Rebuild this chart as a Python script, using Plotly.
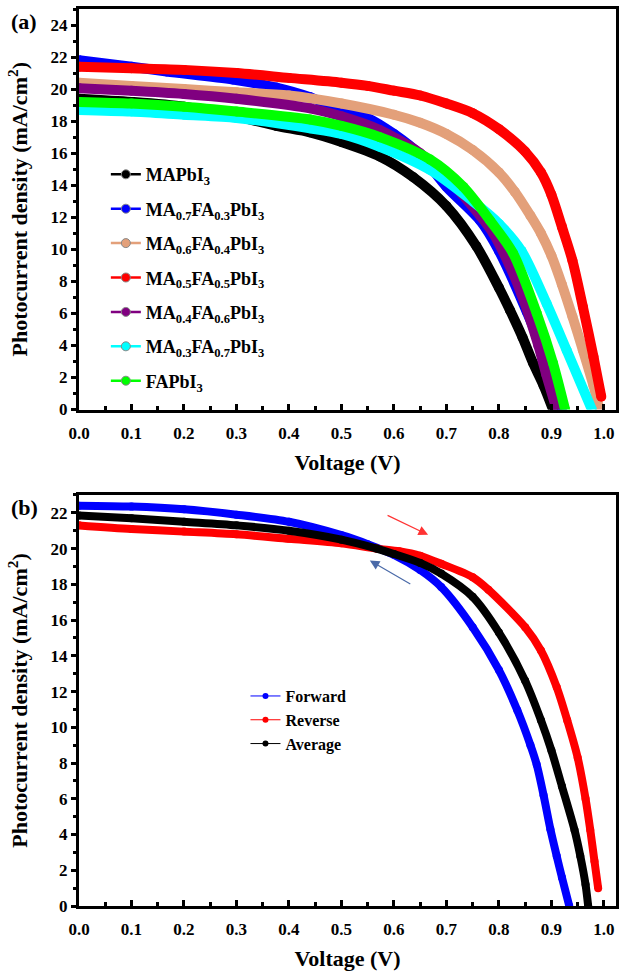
import plotly.graph_objects as go

# ---------------- Panel (a) data ----------------
names_a = ["MAPbI<sub>3</sub>",
           "MA<sub>0.7</sub>FA<sub>0.3</sub>PbI<sub>3</sub>",
           "MA<sub>0.6</sub>FA<sub>0.4</sub>PbI<sub>3</sub>",
           "MA<sub>0.5</sub>FA<sub>0.5</sub>PbI<sub>3</sub>",
           "MA<sub>0.4</sub>FA<sub>0.6</sub>PbI<sub>3</sub>",
           "MA<sub>0.3</sub>FA<sub>0.7</sub>PbI<sub>3</sub>",
           "FAPbI<sub>3</sub>"]
colors_a = ["#000000", "#0000ff", "#e3a07a", "#ff0000", "#800080", "#00ffff", "#00ff00"]

v_mapbi3 = [0, 0.1, 0.2, 0.3, 0.376, 0.44, 0.5, 0.573, 0.637, 0.70, 0.757, 0.80, 0.821, 0.845, 0.865, 0.885, 0.903]
j_mapbi3 = [19.4, 19.2, 18.9, 18.3, 17.7, 17.3, 16.7, 15.8, 14.5, 12.7, 10.2, 7.6, 6.2, 4.5, 2.9, 1.5, 0.0]

v_ma07 = [0, 0.1, 0.167, 0.293, 0.376, 0.44, 0.484, 0.55, 0.6, 0.65, 0.70, 0.764, 0.80, 0.853, 0.897, 0.92]
j_ma07 = [21.8, 21.4, 21.1, 20.6, 20.1, 19.5, 18.9, 18.2, 17.2, 15.9, 13.9, 11.8, 9.9, 6.1, 2.5, 0.0]

v_ma06 = [0, 0.1, 0.2, 0.3, 0.4, 0.5, 0.6, 0.65, 0.7, 0.75, 0.8, 0.83, 0.86, 0.88, 0.9, 0.92, 0.94, 0.96, 0.98, 0.99]
j_ma06 = [20.4, 20.2, 20.0, 19.8, 19.6, 19.1, 18.4, 17.9, 17.2, 16.2, 14.8, 13.6, 12.1, 11.0, 9.6, 7.8, 5.8, 3.7, 1.5, 0.2]

v_ma05 = [0, 0.1, 0.2, 0.3, 0.4, 0.5, 0.55, 0.6, 0.65, 0.7, 0.75, 0.8, 0.85, 0.88, 0.9, 0.92, 0.94, 0.96, 0.98, 0.995]
j_ma05 = [21.4, 21.3, 21.2, 21.0, 20.7, 20.4, 20.2, 19.9, 19.6, 19.1, 18.5, 17.5, 16.1, 14.8, 13.4, 11.4, 9.3, 6.4, 3.3, 0.8]

v_ma04 = [0, 0.1, 0.2, 0.3, 0.44, 0.5, 0.573, 0.65, 0.70, 0.764, 0.789, 0.82, 0.843, 0.875, 0.89, 0.91]
j_ma04 = [20.05, 19.9, 19.7, 19.4, 18.8, 18.3, 17.45, 16.0, 14.5, 12.1, 11.0, 9.0, 7.2, 4.0, 2.2, 0.0]

v_ma03 = [0, 0.1, 0.2, 0.3, 0.44, 0.5, 0.573, 0.669, 0.75, 0.8, 0.843, 0.891, 0.929, 0.977]
j_ma03 = [18.7, 18.6, 18.4, 18.2, 17.55, 17.2, 16.4, 14.95, 13.0, 11.6, 9.9, 6.6, 3.7, 0.0]

v_fapbi3 = [0, 0.1, 0.2, 0.3, 0.44, 0.5, 0.573, 0.669, 0.732, 0.783, 0.827, 0.872, 0.903, 0.926]
j_fapbi3 = [19.2, 19.1, 18.9, 18.6, 18.1, 17.7, 17.0, 15.6, 13.9, 11.8, 9.75, 6.0, 2.9, 0.0]

series_a = [(v_mapbi3, j_mapbi3), (v_ma07, j_ma07), (v_ma06, j_ma06), (v_ma05, j_ma05),
            (v_ma04, j_ma04), (v_ma03, j_ma03), (v_fapbi3, j_fapbi3)]

# ---------------- Panel (b) data ----------------
names_b = ["Forward", "Reverse", "Average"]
colors_b = ["#0000ff", "#ff0000", "#000000"]

v_fwd = [0, 0.1, 0.2, 0.3, 0.4, 0.5, 0.55, 0.6, 0.65, 0.69, 0.75, 0.8, 0.835, 0.86, 0.872, 0.885, 0.898, 0.91, 0.92, 0.934]
j_fwd = [22.4, 22.35, 22.2, 21.9, 21.5, 20.75, 20.25, 19.65, 18.8, 17.85, 15.6, 13.2, 10.95, 9.0, 7.9, 6.2, 4.3, 2.8, 1.6, 0.0]

v_rev = [0, 0.1, 0.2, 0.3, 0.4, 0.5, 0.567, 0.61, 0.65, 0.69, 0.75, 0.78, 0.85, 0.88, 0.91, 0.93, 0.95, 0.965, 0.974, 0.982, 0.989]
j_rev = [21.3, 21.1, 20.95, 20.8, 20.55, 20.3, 20.0, 19.85, 19.6, 19.15, 18.4, 17.7, 15.6, 14.3, 12.25, 10.4, 8.3, 6.0, 4.25, 2.5, 1.0]

v_avg = [0, 0.1, 0.2, 0.3, 0.4, 0.5, 0.567, 0.6, 0.65, 0.69, 0.75, 0.8, 0.85, 0.88, 0.9, 0.92, 0.944, 0.955, 0.965, 0.97]
j_avg = [21.85, 21.7, 21.5, 21.3, 21.0, 20.5, 20.0, 19.7, 19.2, 18.6, 17.3, 15.3, 12.6, 10.4, 8.7, 6.7, 4.25, 2.8, 1.2, 0.0]

series_b = [(v_fwd, j_fwd), (v_rev, j_rev), (v_avg, j_avg)]

# scan direction arrows (tip, tail) in data units
arrow_rev = (0.665, 20.77, 0.585, 21.9)
arrow_fwd = (0.554, 19.33, 0.634, 17.97)

FONT = "Liberation Serif, Times New Roman, serif"

fig = go.Figure()

for (v, j), c, n in zip(series_a, colors_a, names_a):
    fig.add_trace(go.Scatter(x=v, y=j, mode="lines+markers",
                             line=dict(color=c, width=10, shape="spline", smoothing=0.8),
                             marker=dict(color=c, size=10), showlegend=False, xaxis="x", yaxis="y",
                             hoverinfo="skip"))
for c, n in zip(colors_a, names_a):
    fig.add_trace(go.Scatter(x=[None], y=[None], mode="lines+markers", name=n,
                             line=dict(color=c, width=2.5),
                             marker=dict(color=c, size=9, line=dict(color="#888888", width=1)),
                             legend="legend", legendgroup=n, xaxis="x", yaxis="y"))

for (v, j), c, n in zip(series_b, colors_b, names_b):
    fig.add_trace(go.Scatter(x=v, y=j, mode="lines+markers",
                             line=dict(color=c, width=8, shape="spline", smoothing=0.8),
                             marker=dict(color=c, size=8), showlegend=False, xaxis="x2", yaxis="y2",
                             hoverinfo="skip"))
for c, n in zip(colors_b, names_b):
    fig.add_trace(go.Scatter(x=[None], y=[None], mode="lines+markers", name=n,
                             line=dict(color=c, width=1),
                             marker=dict(color=c, size=6),
                             legend="legend2", legendgroup=n, xaxis="x2", yaxis="y2"))

tickfont = dict(family=FONT, size=17, color="black", weight="bold")
titlefont = dict(family=FONT, size=22, color="black", weight="bold")

def xax(domain_anchor):
    return dict(range=[0, 1.023], dtick=0.1, tickformat=".1f", ticks="inside", ticklen=6, tickwidth=2.5,
                tickcolor="black", showline=True, linewidth=3, linecolor="black", mirror=True,
                showgrid=False, zeroline=False, tickfont=tickfont, ticklabelstandoff=6, automargin=False,
                minor=dict(dtick=0.05, ticks="inside", ticklen=4, tickwidth=2.5, tickcolor="black"),
                title=dict(text="Voltage (V)", font=titlefont, standoff=13), anchor=domain_anchor)

def yax(rng, dom, anchor):
    return dict(range=rng, dtick=2, ticks="outside", ticklen=5, tickwidth=2.5, tickcolor="black",
                showline=True, linewidth=3, linecolor="black", mirror=True, showgrid=False, zeroline=False,
                tickfont=tickfont, domain=dom, anchor=anchor, automargin=False,
                minor=dict(dtick=1, ticks="outside", ticklen=3, tickwidth=2.5, tickcolor="black"),
                title=dict(text="Photocurrent density (mA/cm<sup>2</sup>)", font=titlefont, standoff=17))

fig.update_layout(
    width=619, height=972,
    margin=dict(l=79, r=3, t=9, b=66, autoexpand=False),
    plot_bgcolor="white", paper_bgcolor="white",
    xaxis=xax("y"),
    yaxis=yax([0, 25], [0.5535, 1.0], "x"),
    xaxis2=xax("y2"),
    yaxis2=yax([0, 23], [0.0, 0.4582], "x2"),
    legend=dict(x=0.05, y=0.836, xanchor="left", yanchor="top", bgcolor="rgba(0,0,0,0)",
                font=dict(family=FONT, size=18, color="black", weight="bold"), tracegroupgap=8),
    legend2=dict(x=0.31, y=0.253, xanchor="left", yanchor="top", bgcolor="rgba(0,0,0,0)",
                 font=dict(family=FONT, size=16, color="black", weight="bold"), tracegroupgap=0),
    showlegend=True,
)

fig.add_annotation(text="(a)", x=-0.1024, y=0.9866, xref="paper", yref="paper", showarrow=False,
                   xanchor="center", yanchor="middle",
                   font=dict(family=FONT, size=22, color="black", weight="bold"))
fig.add_annotation(text="(b)", x=-0.1024, y=0.4448, xref="paper", yref="paper", showarrow=False,
                   xanchor="center", yanchor="middle",
                   font=dict(family=FONT, size=22, color="black", weight="bold"))

for (tx, ty, ax_, ay_), col in [(arrow_rev, "#ff3333"), (arrow_fwd, "#4a6aa8")]:
    fig.add_annotation(x=tx, y=ty, ax=ax_, ay=ay_, xref="x2", yref="y2", axref="x2", ayref="y2",
                       text="", showarrow=True, arrowhead=2, arrowsize=1.6, arrowwidth=1.2, arrowcolor=col)

fig.write_html("out.html", config={"displayModeBar": False},
               post_script="document.body.style.margin='0';document.body.style.overflow='hidden';")
